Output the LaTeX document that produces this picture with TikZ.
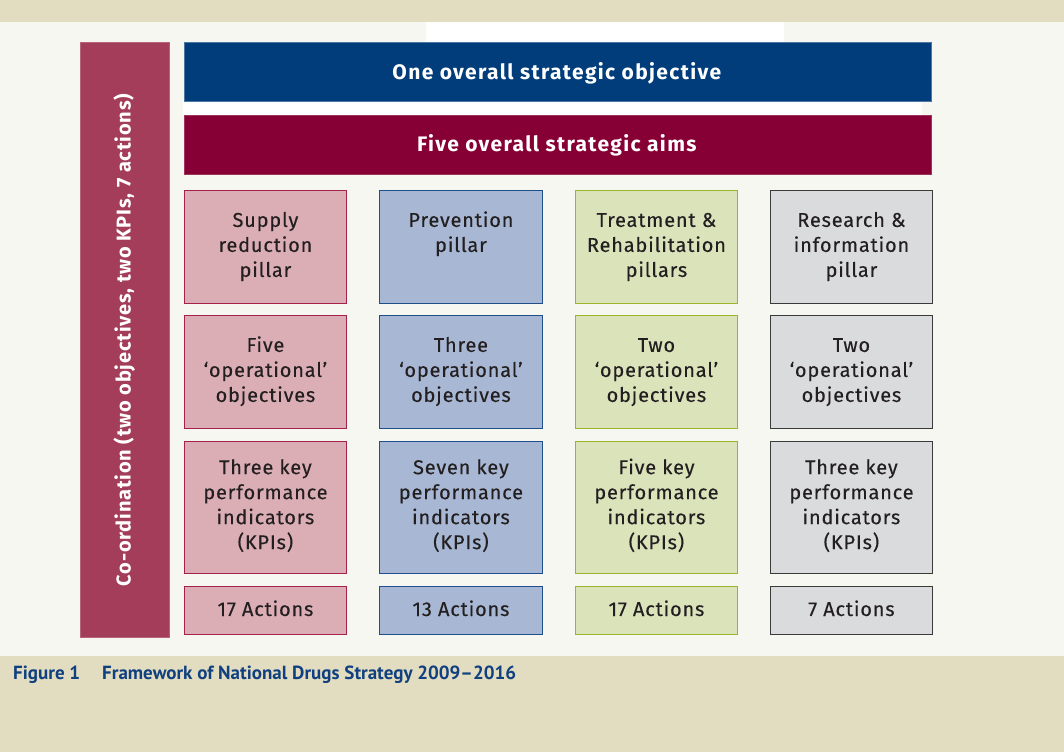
\documentclass[tikz,border=0pt]{standalone}
\usepackage{fontspec}
\setmainfont{Fira Sans}
\newfontfamily\dinf[LetterSpace=4,FakeBold=0.2]{Fira Sans}
\newfontfamily\dinh[LetterSpace=6.5]{Fira Sans}
\newfontfamily\dinc[LetterSpace=4]{Fira Sans}
\newfontfamily\capf{PT Sans}
\definecolor{beige}{RGB}{226,220,192}
\definecolor{paper}{RGB}{247,247,241}
\definecolor{navy}{RGB}{0,61,122}
\definecolor{wine}{RGB}{135,0,53}
\definecolor{coord}{RGB}{163,61,90}
\definecolor{pinkf}{RGB}{219,174,182}
\definecolor{pinkd}{RGB}{163,33,74}
\definecolor{bluef}{RGB}{168,184,212}
\definecolor{blued}{RGB}{31,79,138}
\definecolor{greenf}{RGB}{219,227,187}
\definecolor{greend}{RGB}{154,181,42}
\definecolor{greyf}{RGB}{218,219,221}
\definecolor{greyd}{RGB}{58,58,58}
\definecolor{ink}{RGB}{35,31,32}
\definecolor{capblue}{RGB}{16,64,128}
\newcommand\lnst{\rule[-8pt]{0pt}{25pt}}
\begin{document}
\begin{tikzpicture}[x=1pt,y=-1pt,
  box/.style={draw, line width=1.4pt, minimum width=162.5pt, inner sep=0pt, anchor=north west},
  pk/.style={box, fill=pinkf, draw=pinkd},
  bl/.style={box, fill=bluef, draw=blued},
  gr/.style={box, fill=greenf, draw=greend},
  gy/.style={box, fill=greyf, draw=greyd},
  btxt/.style={align=center, inner sep=0pt, text=ink, font=\dinf\fontsize{20}{25}\selectfont},
  bar/.style={minimum width=747pt, minimum height=59.3pt, inner sep=0pt, anchor=north west, line width=0.8pt},
  bartxt/.style={inner sep=0pt, text=white, anchor=base, font=\dinh\bfseries\fontsize{21}{25}\selectfont}
]
\useasboundingbox (0,0) rectangle (1064,752);
% background
\fill[paper] (0,0) rectangle (1064,752);
\fill[beige] (0,0) rectangle (1064,22);
\fill[beige] (0,655.5) rectangle (1064,752);
\fill[white] (426,22) rectangle (784,42);
\fill[white] (183,101) rectangle (922,115);
% coordination bar
\node[draw=coord!80!white, fill=coord, line width=0.8pt, minimum width=89pt, minimum height=594pt, inner sep=0pt, anchor=north west] (co) at (79.5,42.5) {};
\node[rotate=90, anchor=base, inner sep=0pt, text=white, font=\dinc\bfseries\fontsize{20}{25}\selectfont] (cot) at (130.5,340) {Co-ordination (two objectives, two KPIs, 7 actions)};
% top bars
\node[bar, fill=navy, draw=navy!70!white] (obj) at (183.5,42) {};
\node[bartxt] (objt) at (556.8,79.3) {One overall strategic objective};
\node[bar, fill=wine, draw=wine!80!white] (aims) at (183.5,115) {};
\node[bartxt] (aimst) at (556.8,151.7) {Five overall strategic aims};
% row 1
\node[pk, minimum height=113.5pt] (p1) at (183.5,189.5) {};
\node[bl, minimum height=113.5pt] (b1) at (379,189.5) {};
\node[gr, minimum height=113.5pt] (g1) at (574.5,189.5) {};
\node[gy, minimum height=113.5pt] (y1) at (769.5,189.5) {};
\node[btxt, anchor=north] (p1t) at (p1.north |- 0,209.7) {Supply\lnst\\reduction\lnst\\pillar\lnst};
\node[btxt, anchor=north] (b1t) at (b1.north |- 0,209.7) {Prevention\lnst\\pillar\lnst};
\node[btxt, anchor=north] (g1t) at (g1.north |- 0,209.7) {Treatment \&\lnst\\Rehabilitation\lnst\\pillars\lnst};
\node[btxt, anchor=north] (y1t) at (y1.north |- 0,209.7) {Research \&\lnst\\information\lnst\\pillar\lnst};
% row 2
\node[pk, minimum height=113pt] (p2) at (183.5,315) {};
\node[bl, minimum height=113pt] (b2) at (379,315) {};
\node[gr, minimum height=113pt] (g2) at (574.5,315) {};
\node[gy, minimum height=113pt] (y2) at (769.5,315) {};
\node[btxt, anchor=north] (p2t) at (p2.north |- 0,334.7) {Five\lnst\\‘operational’\lnst\\objectives\lnst};
\node[btxt, anchor=north] (b2t) at (b2.north |- 0,334.7) {Three\lnst\\‘operational’\lnst\\objectives\lnst};
\node[btxt, anchor=north] (g2t) at (g2.north |- 0,334.7) {Two\lnst\\‘operational’\lnst\\objectives\lnst};
\node[btxt, anchor=north] (y2t) at (y2.north |- 0,334.7) {Two\lnst\\‘operational’\lnst\\objectives\lnst};
% row 3
\node[pk, minimum height=132pt] (p3) at (183.5,441) {};
\node[bl, minimum height=132pt] (b3) at (379,441) {};
\node[gr, minimum height=132pt] (g3) at (574.5,441) {};
\node[gy, minimum height=132pt] (y3) at (769.5,441) {};
\node[btxt, anchor=north] (p3t) at (p3.north |- 0,457) {Three key\lnst\\performance\lnst\\indicators\lnst\\(KPIs)\lnst};
\node[btxt, anchor=north] (b3t) at (b3.north |- 0,457) {Seven key\lnst\\performance\lnst\\indicators\lnst\\(KPIs)\lnst};
\node[btxt, anchor=north] (g3t) at (g3.north |- 0,457) {Five key\lnst\\performance\lnst\\indicators\lnst\\(KPIs)\lnst};
\node[btxt, anchor=north] (y3t) at (y3.north |- 0,457) {Three key\lnst\\performance\lnst\\indicators\lnst\\(KPIs)\lnst};
% row 4
\node[pk, minimum height=47.5pt] (p4) at (183.5,586) {};
\node[bl, minimum height=47.5pt] (b4) at (379,586) {};
\node[gr, minimum height=47.5pt] (g4) at (574.5,586) {};
\node[gy, minimum height=47.5pt] (y4) at (769.5,586) {};
\node[btxt, anchor=base] (p4t) at (p4.north |- 0,616) {17 Actions};
\node[btxt, anchor=base] (b4t) at (b4.north |- 0,616) {13 Actions};
\node[btxt, anchor=base] (g4t) at (g4.north |- 0,616) {17 Actions};
\node[btxt, anchor=base] (y4t) at (y4.north |- 0,616) {7 Actions};
% caption
\node[anchor=base west, inner sep=0pt, text=capblue, font=\capf\bfseries\fontsize{19}{22}\selectfont] (fig) at (13,679.3) {Figure 1};
\node[anchor=base west, inner sep=0pt, text=capblue, font=\capf\bfseries\fontsize{19}{22}\selectfont] (figt) at (102,679.3) {Framework of National Drugs Strategy 2009–2016};
\end{tikzpicture}
\end{document}
